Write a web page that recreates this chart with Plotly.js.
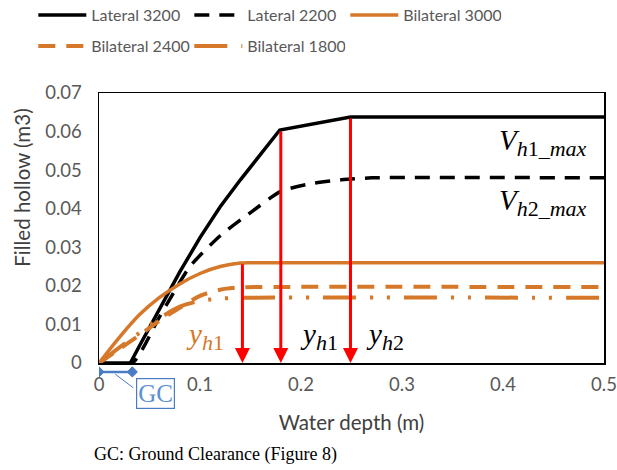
<!DOCTYPE html>
<html><head><meta charset="utf-8">
<script src="https://cdn.plot.ly/plotly-3.0.1.min.js"></script>
<style>body{margin:0;background:#fff}#c{width:617px;height:470px}</style>
</head><body><div id="c"></div>
<script>
// Data
const lat3200X = [0, 0.031, 0.04, 0.06, 0.08, 0.1, 0.12, 0.14, 0.16, 0.179, 0.249, 0.5];
const lat3200Y = [0, 0, 0.0044, 0.0142, 0.0236, 0.0325, 0.0405, 0.0475, 0.054, 0.0604, 0.0638, 0.0638];
const lat2200X = [0, 0.033, 0.06, 0.09, 0.12, 0.15, 0.18, 0.21, 0.24, 0.27, 0.5];
const lat2200Y = [0, 0, 0.012, 0.025, 0.033, 0.039, 0.0445, 0.0465, 0.0475, 0.048, 0.048];
const bil3000X = [0, 0.02, 0.04, 0.06, 0.08, 0.1, 0.12, 0.14, 0.15, 0.5];
const bil3000Y = [0, 0.0066, 0.0125, 0.017, 0.0205, 0.0232, 0.025, 0.0259, 0.026, 0.026];
const bil2400X = [0, 0.02, 0.04, 0.06, 0.08, 0.1, 0.12, 0.14, 0.16, 0.5];
const bil2400Y = [0, 0.0036, 0.0072, 0.011, 0.0143, 0.0174, 0.019, 0.0196, 0.0197, 0.0197];
const bil1800X = [0, 0.02, 0.04, 0.06, 0.08, 0.1, 0.12, 0.14, 0.5];
const bil1800Y = [0, 0.004, 0.0078, 0.0116, 0.0146, 0.0161, 0.0167, 0.0169, 0.0169];
const seriesNames = ["Lateral 3200", "Lateral 2200", "Bilateral 3000", "Bilateral 2400", "Bilateral 1800"];
// Vertical red arrows: x position and top value
const arrowX = [0.142, 0.18, 0.249];
const arrowTop = [0.026, 0.0604, 0.0638];
const groundClearance = [0, 0.033];

const BLACK = '#000000', ORANGE = '#D6782A', RED = '#FF0000', BLUE = '#4A7BC4';
const traces = [
  {x: lat3200X, y: lat3200Y, name: seriesNames[0], legend: 'legend', mode: 'lines', line: {color: BLACK, width: 3.5}},
  {x: lat2200X, y: lat2200Y, name: seriesNames[1], legend: 'legend', mode: 'lines', line: {color: BLACK, width: 3.5, dash: '15px,10px', shape: 'spline', smoothing: 0.6}},
  {x: bil3000X, y: bil3000Y, name: seriesNames[2], legend: 'legend', mode: 'lines', line: {color: ORANGE, width: 3.5, shape: 'spline', smoothing: 0.8}},
  {x: bil2400X, y: bil2400Y, name: seriesNames[3], legend: 'legend2', mode: 'lines', line: {color: ORANGE, width: 4, dash: '17px,11px', shape: 'spline', smoothing: 0.8}},
  {x: bil1800X, y: bil1800Y, name: seriesNames[4], legend: 'legend2', mode: 'lines', line: {color: ORANGE, width: 4, dash: '33px,14px,3px,14px,3px,14px', shape: 'spline', smoothing: 0.8}}
];

const annotations = [];
arrowX.forEach((x, i) => {
  annotations.push({x: x, y: 0, ax: x, ay: arrowTop[i], xref: 'x', yref: 'y', axref: 'x', ayref: 'y',
    text: '', showarrow: true, arrowhead: 2, arrowsize: 1, arrowwidth: 3, arrowcolor: RED, standoff: 0});
});
const mathFont = {family: 'Liberation Serif, serif', size: 29, color: '#000'};
const sub = s => '<sub><span style="font-size:22px">' + s + '</span></sub>';
annotations.push(
  {x: 0.44, y: 0.0572, xref: 'x', yref: 'y', text: '<i>V</i>' + sub('<i>h</i>1_<i>max</i>'), showarrow: false, font: mathFont},
  {x: 0.44, y: 0.0416, xref: 'x', yref: 'y', text: '<i>V</i>' + sub('<i>h</i>2_<i>max</i>'), showarrow: false, font: mathFont},
  {x: 0.105, y: 0.0068, xref: 'x', yref: 'y', text: '<i>y</i>' + sub('<i>h</i>1'), showarrow: false, font: Object.assign({}, mathFont, {color: ORANGE})},
  {x: 0.218, y: 0.0068, xref: 'x', yref: 'y', text: '<i>y</i>' + sub('<i>h</i>1'), showarrow: false, font: mathFont},
  {x: 0.283, y: 0.0068, xref: 'x', yref: 'y', text: '<i>y</i>' + sub('<i>h</i>2'), showarrow: false, font: mathFont},
  {x: 0.0555, y: -0.054, xref: 'x', yref: 'paper', yanchor: 'top', text: 'GC', showarrow: false,
   font: {family: 'Liberation Serif, serif', size: 25, color: '#5B8FD6'}, bordercolor: BLUE, borderwidth: 1.2, borderpad: 1, bgcolor: '#fff'},
  {x: -0.014, y: -0.34, xref: 'paper', yref: 'paper', xanchor: 'left', yanchor: 'middle', text: 'GC: Ground Clearance (Figure 8)', showarrow: false,
   font: {family: 'Liberation Serif, serif', size: 18, color: '#000'}},
  {x: -0.153, y: 0.648, xref: 'paper', yref: 'paper', xanchor: 'center', yanchor: 'middle', textangle: -90, text: 'Filled hollow (m3)', showarrow: false,
   font: {family: 'Lato, sans-serif', size: 20.5, color: '#404040'}}
);

// Ground-clearance dimension line below the axis
const gcY = -0.033, dX = 0.005, dY = 0.019;
const diamond = (x) => `M${x - dX},${gcY} L${x},${gcY + dY} L${x + dX},${gcY} L${x},${gcY - dY} Z`;
const shapes = [
  {type: 'line', xref: 'x', yref: 'paper', x0: 0.016, y0: -0.041, x1: 0.034, y1: -0.092, line: {color: BLUE, width: 1}},
  {type: 'line', xref: 'x', yref: 'paper', x0: groundClearance[0], y0: gcY, x1: groundClearance[1], y1: gcY, line: {color: BLUE, width: 2.5}},
  {type: 'path', xref: 'x', yref: 'paper', path: diamond(groundClearance[0]), fillcolor: BLUE, line: {color: BLUE, width: 1}},
  {type: 'path', xref: 'x', yref: 'paper', path: diamond(groundClearance[1]), fillcolor: BLUE, line: {color: BLUE, width: 1}}
];

const legendCommon = {orientation: 'h', xanchor: 'left', yanchor: 'middle', xref: 'container', x: 0.054, yref: 'container',
  entrywidth: 93, entrywidthmode: 'pixels', itemwidth: 48,
  font: {family: 'Lato, sans-serif', size: 16, color: '#595959'}, bgcolor: 'rgba(0,0,0,0)'};

const layout = {
  width: 617, height: 470,
  margin: {l: 99, r: 13, t: 93, b: 107, autoexpand: false},
  paper_bgcolor: '#fff', plot_bgcolor: '#fff',
  font: {family: 'Lato, sans-serif', color: '#595959'},
  showlegend: true,
  legend: Object.assign({}, legendCommon, {y: 0.968}),
  legend2: Object.assign({}, legendCommon, {y: 0.902}),
  xaxis: {range: [0, 0.5], dtick: 0.1, tick0: 0, showgrid: false, zeroline: false,
    showline: true, mirror: true, linecolor: '#000', linewidth: 1.5, ticks: '',
    tickfont: {size: 18.5, color: '#595959'}, ticklabelstandoff: 4,
    title: {text: 'Water depth (m)', font: {size: 20.5, color: '#404040'}, standoff: 22}},
  yaxis: {range: [0, 0.07], dtick: 0.01, tick0: 0, showgrid: false, zeroline: false,
    showline: true, mirror: true, linecolor: '#000', linewidth: 1.5, ticks: '',
    tickfont: {size: 18.5, color: '#595959'}, ticklabelstandoff: 12},
  annotations: annotations,
  shapes: shapes
};
Plotly.newPlot('c', traces, layout, {displayModeBar: false, staticPlot: true});
</script>
</body></html>
